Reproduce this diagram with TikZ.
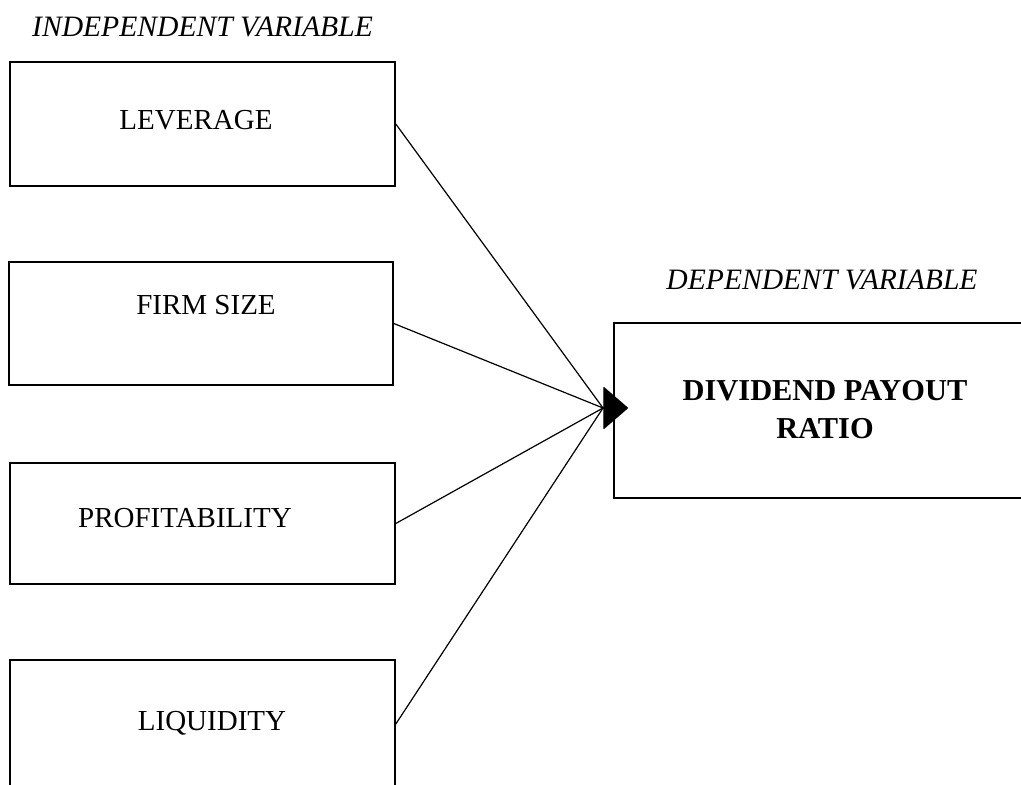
\documentclass[tikz,border=0pt]{standalone}
\usepackage{fontspec}
\setmainfont{Liberation Serif}
\usetikzlibrary{arrows.meta}
\usetikzlibrary{positioning}

\tikzset{
  varbox/.style={rectangle,draw=black,line width=0.8pt,inner sep=0pt},
  boxtext/.style={font=\fontsize{14.5}{19}\selectfont,text=black,anchor=base},
  headtext/.style={font=\fontsize{14.8}{19}\selectfont\itshape,text=black,anchor=base},
  link/.style={black,line width=0.6pt},
}

\begin{document}
\begin{tikzpicture}[x=0.5pt,y=-0.5pt]
\useasboundingbox (0,0) rectangle (1021,785);
\clip (0,0) rectangle (1021,785);

\node[headtext] (indep) at (202.5,37) {INDEPENDENT VARIABLE};
\node[headtext] (dep) at (822,290) {DEPENDENT VARIABLE};

% independent variables
\node[varbox,minimum width=192.5pt,minimum height=62pt] (lev) at (202.5,124) {};
\node[boxtext] (levtxt) at (196,130) {LEVERAGE};
\node[varbox,minimum width=192pt,minimum height=61.5pt] (size) at (201,323.5) {};
\node[boxtext] (sizetxt) at (206,315) {FIRM SIZE};
\node[varbox,minimum width=192.5pt,minimum height=60.5pt] (prof) at (202.5,523.5) {};
\node[boxtext] (proftxt) at (185,527) {PROFITABILITY};
\node[varbox,minimum width=192.5pt,minimum height=64pt] (liq) at (202.5,724) {};
\node[boxtext] (liqtxt) at (212,730) {LIQUIDITY};

% dependent variable
\node[varbox,minimum width=211pt,minimum height=87.5pt] (dpr) at (825,410.5) {};
\node[boxtext,font=\fontsize{15.2}{19}\selectfont\bfseries,align=center] (dprtxt) at (825,438) {DIVIDEND PAYOUT\\RATIO};

\coordinate (hub) at (603,408);
\coordinate (tip) at (628,408);

\draw[link] (lev.east) -- (hub);
\draw[link] (size.east) -- (hub);
\draw[link] (prof.east) -- (hub);
\draw[link] (liq.east) -- (hub);
\draw[link,-{Triangle[length=12.5pt,width=21.5pt,round]}] (hub) -- (tip);

\end{tikzpicture}
\end{document}
